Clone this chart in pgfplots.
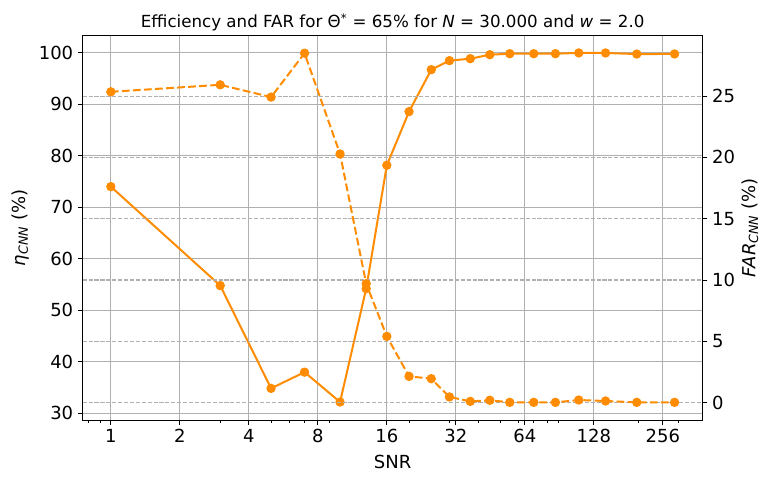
\documentclass[border=0pt]{standalone}
\usepackage{pgfplots}
\pgfplotsset{compat=1.18}
\usepackage{fontspec}
\setmainfont{DejaVu Sans}
\definecolor{dorange}{RGB}{255,140,0}
\definecolor{gridgray}{HTML}{B0B0B0}
\newcommand{\tickfont}{\fontsize{13.5}{16}\selectfont}
\begin{document}
\begin{tikzpicture}
\useasboundingbox (-62pt,-45.75pt) rectangle (516.25pt,315.05pt);
\begin{axis}[at={(0,0)}, anchor=south west,
  scale only axis, width=465pt, height=288.3pt,
  xmode=log, xmin=0.7535, xmax=382,
  tick align=outside, major tick length=3.6pt, minor tick length=2.1pt,
  tick style={black, line width=0.7pt},
  ticklabel style={font=\tickfont},
  axis line style={line width=0.83pt},
  xtick={1,2,4,8,16,32,64,128,256},
  xticklabels={1,2,4,8,16,32,64,128,256},
  minor xtick={0.8,0.9,3,5,6,7,9,20,30,40,50,60,70,80,90,200,300},
  xtick pos=bottom, ytick pos=left,
  ymin=28.7, ymax=103.3, ytick={30,40,...,100},
  yticklabel={\pgfmathprintnumber[assume math mode=true]{\tick}},
  xmajorgrids, ymajorgrids,
  major grid style={gridgray, line width=0.83pt},
  xlabel style={at={(axis description cs:0.5,-0.1093)}, anchor=center, font=\tickfont},
  ylabel style={at={(axis description cs:-0.101,0.5)}, anchor=center, font=\tickfont},
  every axis title shift=0pt,
  title style={at={(axis description cs:0.5,1)}, anchor=base, yshift=5.8pt, font=\fontsize{12.5}{15}\selectfont},
  xlabel={SNR},
  ylabel={\textit{η}\textsubscript{\textit{CNN}} (\%)},
  title={Efficiency and FAR for Θ\textsuperscript{*} = 65\% for \textit{N} = 30.000 and \textit{w} = 2.0},
]
\addplot[dorange, line width=1.5pt, line join=round, mark=*, mark size=3.1pt,
  mark options={solid, fill=dorange, draw=dorange, line width=0.8pt}]
  coordinates {
  (1,74.0) (3,54.8) (5,34.85) (7,38.0) (10,32.2) (13,54.2) (16,78.15) (20,88.56)
  (25,96.7) (30,98.45) (37,98.83) (45,99.6) (55,99.8) (70,99.8) (87,99.8)
  (110,99.95) (144,99.94) (197,99.73) (288,99.75)
  };
\end{axis}
\begin{axis}[at={(0,0)}, anchor=south west,
  scale only axis, width=465pt, height=288.3pt,
  xmode=log, xmin=0.7535, xmax=382,
  tick align=outside, major tick length=3.6pt,
  tick style={black, line width=0.7pt},
  ticklabel style={font=\tickfont},
  axis line style={line width=0.83pt},
  axis y line*=right, axis x line=none,
  ymin=-1.425, ymax=29.93, ytick={0,5,...,25},
  yticklabel={\pgfmathprintnumber[assume math mode=true]{\tick}},
  ymajorgrids,
  major grid style={gridgray, line width=0.83pt, dash pattern=on 3.1pt off 1.33pt},
  ylabel style={at={(axis description cs:1.0763,0.5)}, anchor=center, font=\tickfont},
  ylabel={\textit{FAR}\textsubscript{\textit{CNN}} (\%)},
]
\addplot[dorange, line width=1.5pt, line join=round, dash pattern=on 5.8pt off 2.5pt,
  mark=*, mark size=3.1pt,
  mark options={solid, fill=dorange, draw=dorange, line width=0.8pt}]
  coordinates {
  (1,25.35) (3,25.92) (5,24.92) (7,28.5) (10,20.28) (13,9.7) (16,5.4) (20,2.14)
  (25,1.95) (30,0.46) (37,0.1) (45,0.19) (55,0.02) (70,0.02) (87,0.02)
  (110,0.21) (144,0.13) (197,0.02) (288,0.02)
  };
\end{axis}
\end{tikzpicture}
\end{document}
